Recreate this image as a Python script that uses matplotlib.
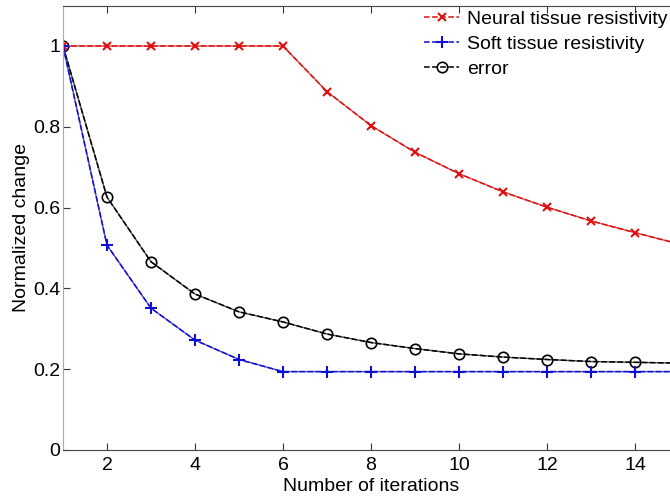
import matplotlib
matplotlib.use("Agg")
import matplotlib.pyplot as plt

plt.rcParams['font.family'] = ['Liberation Sans', 'DejaVu Sans']

iterations = list(range(1, 16))
neural = [1.0, 1.0, 1.0, 1.0, 1.0, 1.0, 0.887, 0.803, 0.737, 0.684,
          0.639, 0.601, 0.567, 0.538, 0.510]
soft = [1.0, 0.507, 0.351, 0.272, 0.224, 0.194, 0.194, 0.194, 0.194, 0.194,
        0.194, 0.194, 0.194, 0.194, 0.194]
error = [1.0, 0.626, 0.466, 0.386, 0.342, 0.317, 0.287, 0.266, 0.251, 0.238,
         0.230, 0.224, 0.219, 0.217, 0.215]

fig = plt.figure(figsize=(6.7, 4.99), dpi=100)
ax = fig.add_axes([0.094, 0.0982, 0.9194, 0.8906])

# solid underlay + dashed line on top (mimics the original rendering)
ax.plot(iterations, error, '-', color='#333333', lw=1.0, alpha=0.85)
ax.plot(iterations, error, '--', color='black', lw=1.1, marker='o',
        ms=7.5, mfc='none', mew=1.2, label='error')
ax.plot(iterations, neural, '-', color='#d03030', lw=1.0, alpha=0.85)
ax.plot(iterations, neural, '--', color='#e01010', lw=1.1, marker='x',
        ms=6, mew=1.5, label='Neural tissue resistivity')
ax.plot(iterations, soft, '-', color='#3030c0', lw=1.0, alpha=0.85)
ax.plot(iterations, soft, '--', color='#1010d0', lw=1.1, marker='+',
        ms=9, mew=1.5, label='Soft tissue resistivity')

ax.set_xlim(1, 15)
ax.set_ylim(0, 1.1)
ax.set_xticks([2, 4, 6, 8, 10, 12, 14])
ax.set_yticks([0, 0.2, 0.4, 0.6, 0.8, 1.0])
ax.set_yticklabels(['0', '0.2', '0.4', '0.6', '0.8', '1'])
ax.tick_params(direction='in', top=True, right=True, labelsize=14,
               length=5, width=0.8, color='#333333')
ax.tick_params(axis='y', pad=2)
ax.tick_params(axis='x', pad=5)
for side in ['bottom', 'top', 'right']:
    ax.spines[side].set_color('#444444')
ax.spines['left'].set_color('#aaaaaa')

ax.set_xlabel('Number of iterations', fontsize=14, labelpad=3)
ax.set_ylabel('Normalized change', fontsize=14, labelpad=2)

handles, labels = ax.get_legend_handles_labels()
order = [1, 2, 0]
ax.legend([handles[i] for i in order], [labels[i] for i in order],
          loc='upper right', bbox_to_anchor=(1.0, 1.015), frameon=False,
          fontsize=14, handlelength=1.8, handletextpad=0.4, labelspacing=0.38,
          borderaxespad=0.2)

fig.savefig('out.png', dpi=100)
